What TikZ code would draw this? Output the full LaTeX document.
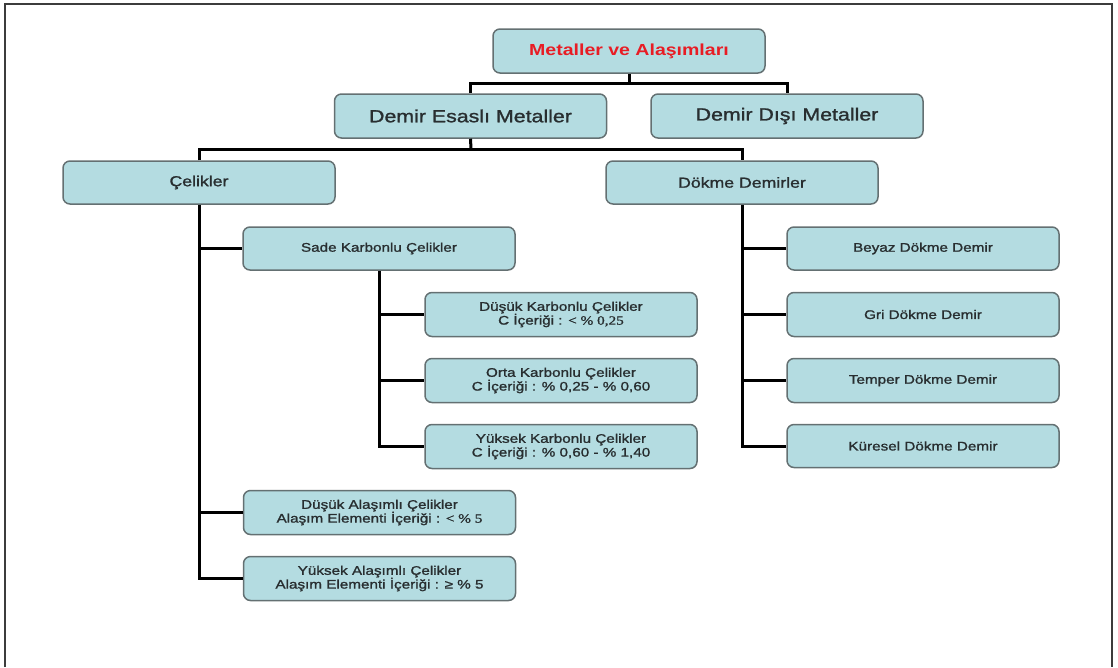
\documentclass[tikz,border=0pt]{standalone}
\usepackage{fontspec}
\setmainfont{Liberation Sans}[FakeStretch=1.22]
\newfontfamily\boxfont{Liberation Sans}[FakeStretch=1.22,FakeBold=1.3]
\newfontfamily\serifst{Liberation Serif}[FakeStretch=1.22,FakeBold=1.3]
\definecolor{boxfill}{RGB}{180,220,225}
\definecolor{boxborder}{RGB}{100,112,114}
\definecolor{textc}{RGB}{40,46,48}
\definecolor{titlec}{RGB}{232,28,36}
\definecolor{framec}{RGB}{60,60,60}
\tikzset{
  box/.style={draw=boxborder, fill=boxfill, rounded corners=7pt, line width=1.5pt,
    minimum width=272pt, minimum height=44pt, inner sep=0pt, text=textc, align=center},
  bigtxt/.style={font=\boxfont\fontsize{17.5}{20}\selectfont},
  midtxt/.style={font=\boxfont\fontsize{14.5}{17}\selectfont},
  smalltxt/.style={font=\boxfont\fontsize{12.5}{13.8}\selectfont},
  conn/.style={draw=black, line width=3pt}
}
\begin{document}
\begin{tikzpicture}[x=1pt,y=-1pt]
\useasboundingbox (0,0) rectangle (1118,667);
\draw[framec, line width=2pt] (5,667) -- (5,4) -- (1112,4) -- (1112,667);

\node[box, font=\fontsize{16}{19}\selectfont\bfseries, text=titlec] (top) at (629,51) {Metaller ve Alaşımları};
\node[box, bigtxt] (des) at (470.5,116) {Demir Esaslı Metaller};
\node[box, bigtxt] (dd) at (787,116) {Demir Dışı Metaller};
\node[box, midtxt, minimum height=43pt] (cel) at (199,182.5) {Çelikler};
\node[box, midtxt, minimum height=43pt] (dok) at (742,182.5) {Dökme Demirler};
\node[box, smalltxt, minimum height=43pt] (sade) at (379,248.5) {Sade Karbonlu Çelikler};
\node[box, smalltxt] (dk) at (561,314.5) {Düşük Karbonlu Çelikler\\C İçeriği : {\serifst < \% 0,25}};
\node[box, smalltxt] (ok) at (561,380.5) {Orta Karbonlu Çelikler\\C İçeriği : \% 0,25 - \% 0,60};
\node[box, smalltxt] (yk) at (561,446.5) {Yüksek Karbonlu Çelikler\\C İçeriği : \% 0,60 - \% 1,40};
\node[box, smalltxt] (da) at (379.5,512.5) {Düşük Alaşımlı Çelikler\\Alaşım Elementi İçeriği : {\serifst < \% 5}};
\node[box, smalltxt] (ya) at (379.5,578.5) {Yüksek Alaşımlı Çelikler\\Alaşım Elementi İçeriği : ≥ \% 5};
\node[box, smalltxt, minimum height=43pt] (beyaz) at (923,248.5) {Beyaz Dökme Demir};
\node[box, smalltxt] (gri) at (923,314.5) {Gri Dökme Demir};
\node[box, smalltxt] (temper) at (923,380.5) {Temper Dökme Demir};
\node[box, smalltxt, minimum height=43pt] (kur) at (923,446) {Küresel Dökme Demir};

\coordinate (j1) at (629,83);
\coordinate (j2) at (471,149);
\draw[conn] (top.south) -- (j1);
\draw[conn] (des.north) |- (j1) -| (dd.north);
\draw[conn] (des.south) -- (j2);
\draw[conn] (cel.north) |- (j2) -| (dok.north);

\draw[conn] (cel.south) |- (ya.west);
\draw[conn] (cel.south |- sade.west) -- (sade.west);
\draw[conn] (cel.south |- da.west) -- (da.west);

\draw[conn] (sade.south) |- (yk.west);
\draw[conn] (sade.south |- dk.west) -- (dk.west);
\draw[conn] (sade.south |- ok.west) -- (ok.west);

\draw[conn] (dok.south) |- (kur.west);
\draw[conn] (dok.south |- beyaz.west) -- (beyaz.west);
\draw[conn] (dok.south |- gri.west) -- (gri.west);
\draw[conn] (dok.south |- temper.west) -- (temper.west);
\end{tikzpicture}
\end{document}
